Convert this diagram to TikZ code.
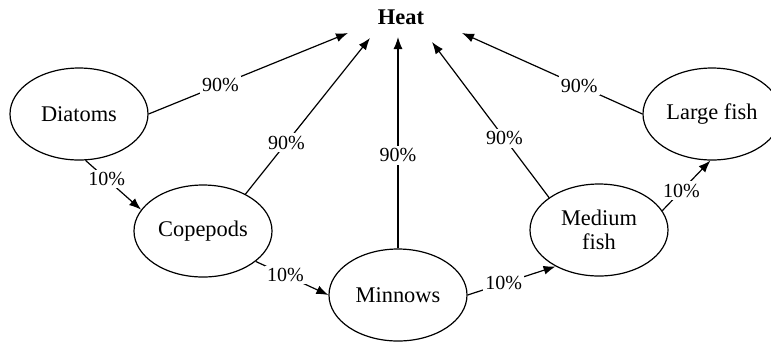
\documentclass[tikz,border=0pt]{standalone}
\usepackage{fontspec}
\setmainfont{Liberation Serif}
\usetikzlibrary{shapes.geometric,arrows.meta}
\begin{document}
\begin{tikzpicture}[x=0.5pt,y=-0.5pt,
  every node/.style={font=\fontsize{11.2}{12.5}\selectfont},
  blob/.style={draw,ellipse,line width=0.6pt,minimum width=69pt,minimum height=46pt,inner sep=0pt,align=center},
  flow/.style={line width=0.6pt,-{Latex[length=6pt,width=4.5pt]}},
  pct/.style={fill=white,inner sep=1.2pt,font=\fontsize{10}{11}\selectfont}]
\useasboundingbox (0,0) rectangle (771,344);
\node[font=\fontsize{11.2}{12.5}\selectfont\bfseries] (heat) at (401,17) {Heat};
\node[blob] (dia) at (79,114) {Diatoms};
\node[blob] (cop) at (203,231) {Copepods};
\node[blob] (min) at (398,295) {Minnows};
\node[blob] (med) at (599,230) {Medium\\[-0.5pt]fish};
\node[blob] (lar) at (712,114) {Large fish};
\coordinate (h1) at (348,33);
\coordinate (h2) at (370,38);
\coordinate (h3) at (398,37);
\coordinate (h4) at (432,42);
\coordinate (h5) at (462,33);
\draw[flow] (dia.east) -- node[pct,pos=0.36] {90\%} (h1);
\draw[flow] (cop.41) -- node[pct,pos=0.33] {90\%} (h2);
\draw[flow] (min.north) -- node[pct,pos=0.44] {90\%} (h3);
\draw[flow] (med.147) -- node[pct,pos=0.38] {90\%} (h4);
\draw[flow] (lar.west) -- node[pct,pos=0.35] {90\%} (h5);
\draw[flow] (dia.-82) -- node[pct,pos=0.38] {10\%} (cop.161);
\draw[flow] (cop.-30) -- node[pct,pos=0.41] {10\%} (min.west);
\draw[flow] (min.east) -- node[pct,pos=0.41] {10\%} (med.220);
\draw[flow] (med.17) -- node[pct,pos=0.4] {10\%} (lar.-92);
\end{tikzpicture}
\end{document}
